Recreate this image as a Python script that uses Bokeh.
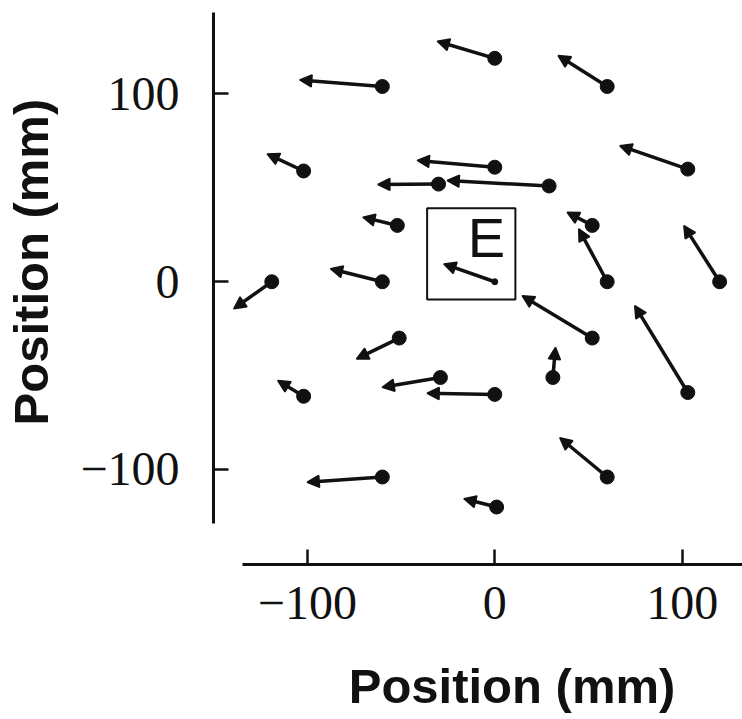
import numpy as np
from bokeh.plotting import figure
from bokeh.models import (Range1d, LinearAxis, FixedTicker, Arrow, NormalHead,
                          ColumnDataSource, Label, BoxAnnotation)
from bokeh.embed import file_html
from bokeh.resources import INLINE

# ---- data (mm) ----
# start positions (dots)
x_start = [-60, 0, 60, -102, 0, -30, 29, 103, -52, 52, 60, 120,
           -119, -60, -51, 52, -102, -29, 0, 31, 103, -60, 1, 60]
y_start = [104, 119, 104, 59, 61, 52, 51, 60, 30, 30, 0, 0,
           0, 0, -30, -30, -61, -51, -60, -51, -59, -104, -120, -104]
# end positions (arrow tips)
x_end = [-104.1, -30.7, 33.8, -121.5, -41.4, -62.4, -25.4, 66.7, -70.4, 38.6, 44.8, 100.9,
         -139.3, -87.7, -73.8, 14.6, -115.8, -60.1, -36.1, 32.4, 74.7, -100.1, -16.5, 34.7]
y_end = [107.5, 128.1, 120.5, 68.1, 64.6, 51.8, 53.9, 72.5, 34.4, 37.0, 28.2, 29.9,
         -14.4, 6.9, -41.1, -7.4, -52.6, -56.2, -59.4, -34.9, -12.7, -106.8, -115.6, -83.1]

# the electrode site "E" at the centre
e_x_start, e_y_start = [0], [0]
e_x_end, e_y_end = [-27.2], [9.5]
e_box = dict(left=-36.1, right=11.0, bottom=-9.5, top=39.1)
e_text_pos = (-14.4, 23.4)

x_ticks = [-100, 0, 100]
x_tick_labels = ["\u2212100", "0", "100"]
y_ticks = [-100, 0, 100]
y_tick_labels = ["\u2212100", "0", "100"]

x_label = "Position (mm)"
y_label = "Position (mm)"

INK = "#111111"
NBSP = "\u00a0"

p = figure(width=742, height=719,
           x_range=Range1d(-150.1, 132.2), y_range=Range1d(-150.6, 149.8),
           output_backend="svg", toolbar_location=None,
           x_axis_type=None, y_axis_type=None,
           min_border_left=213, min_border_bottom=155,
           min_border_top=0, min_border_right=0)
p.outline_line_color = None
p.background_fill_color = "white"
p.border_fill_color = "white"

def style_axis(ax, ticks, labels, standoff):
    ax.ticker = FixedTicker(ticks=ticks)
    ax.major_label_overrides = {t: l for t, l in zip(ticks, labels)}
    ax.axis_line_width = 3
    ax.axis_line_color = INK
    ax.major_tick_in = 15
    ax.major_tick_out = 0
    ax.major_tick_line_width = 2.5
    ax.major_tick_line_color = INK
    ax.minor_tick_line_color = None
    ax.major_label_text_font = "Liberation Serif"
    ax.major_label_text_font_size = "48px"
    ax.major_label_text_color = INK
    ax.major_label_standoff = standoff
    ax.axis_label_text_font = "Liberation Sans"
    ax.axis_label_text_font_style = "bold"
    ax.axis_label_text_font_size = "49px"
    ax.axis_label_text_color = INK

# leading no-break spaces shift the centred titles to where the reference has them
xaxis = LinearAxis(bounds=(-134.6, 140), axis_label=NBSP * 5 + x_label)
style_axis(xaxis, x_ticks, x_tick_labels, 22)
xaxis.axis_label_standoff = 37
p.add_layout(xaxis, "below")

yaxis = LinearAxis(bounds=(-128.8, 143.4), axis_label=NBSP * 3 + y_label)
style_axis(yaxis, y_ticks, y_tick_labels, 34)
yaxis.axis_label_standoff = 19
p.add_layout(yaxis, "left")

# vectors
src = ColumnDataSource(dict(x0=x_start, y0=y_start, x1=x_end, y1=y_end))
p.add_layout(Arrow(end=NormalHead(size=12, fill_color=INK, line_color=INK, line_width=1.5),
                   x_start="x0", y_start="y0", x_end="x1", y_end="y1",
                   source=src, line_color=INK, line_width=3.5))
p.scatter("x0", "y0", source=src, size=14, color=INK)

# E site
esrc = ColumnDataSource(dict(x0=e_x_start, y0=e_y_start, x1=e_x_end, y1=e_y_end))
p.add_layout(Arrow(end=NormalHead(size=12, fill_color=INK, line_color=INK, line_width=1.5),
                   x_start="x0", y_start="y0", x_end="x1", y_end="y1",
                   source=esrc, line_color=INK, line_width=3.5))
p.scatter("x0", "y0", source=esrc, size=6, color=INK)
p.add_layout(BoxAnnotation(fill_color=None, line_color=INK, line_alpha=1.0,
                           line_width=2, **e_box))
p.add_layout(Label(x=e_text_pos[0], y=e_text_pos[1], text="E",
                   text_font="Liberation Sans", text_font_size="56px",
                   text_color=INK, text_align="left", text_baseline="alphabetic"))

open("out.html", "w").write(file_html(p, INLINE))
